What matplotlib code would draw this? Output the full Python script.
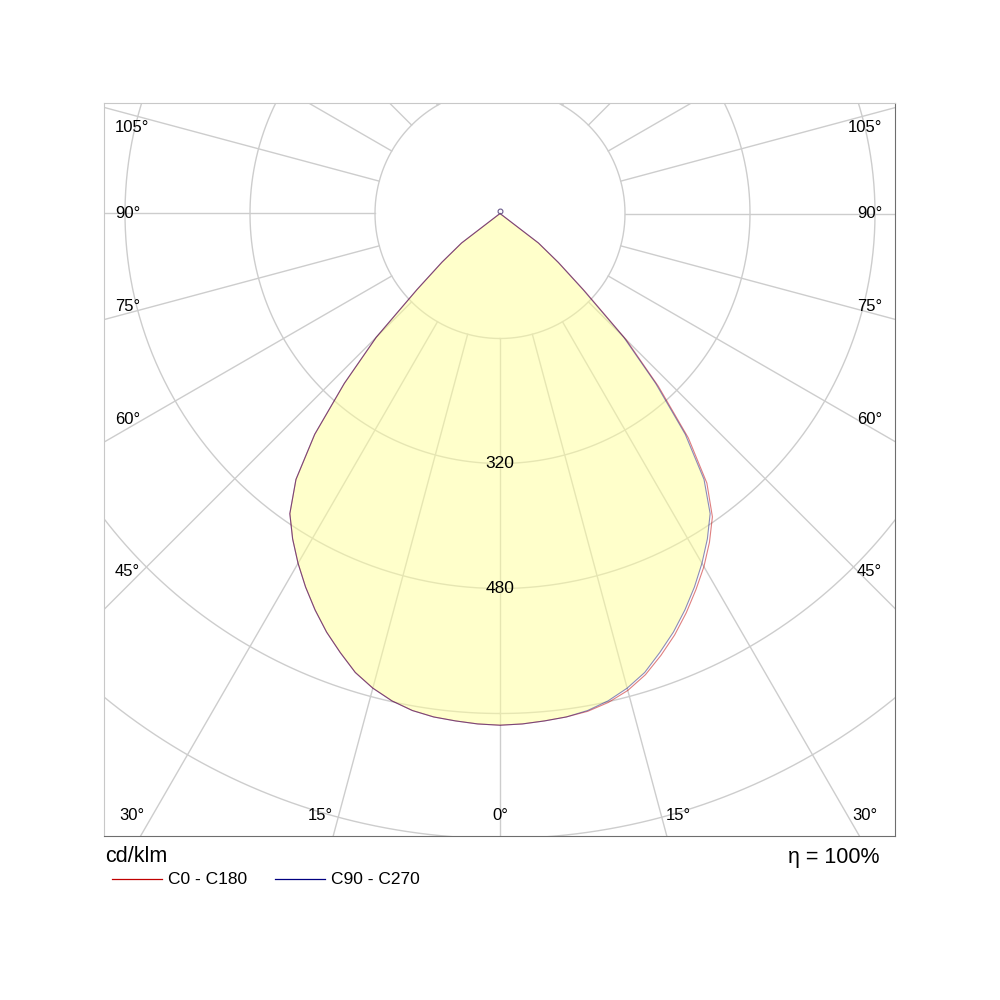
import numpy as np
import matplotlib.pyplot as plt

plt.rcParams['font.family'] = ['Liberation Sans', 'DejaVu Sans']

# gamma angles (deg) and luminous intensity (cd/klm)
gamma = [0, 2.5, 5, 7.5, 10, 12.5, 15, 17.5, 20, 22.5, 25, 27.5, 30, 32.5,
         35, 37.5, 40, 42.5, 45, 47.5, 50, 52.5, 55, 57.5, 60, 62.5, 65,
         67.5, 70, 75, 80, 85, 90]
i_c90 = [655, 654, 652, 650, 646, 639, 629, 616, 598, 580, 560, 539, 517, 494,
         469, 429, 369, 295, 224, 144, 97, 62, 0, 0, 0, 0, 0,
         0, 0, 0, 0, 0, 0]
i_c0 = [655, 654, 652, 650, 647, 641, 632, 619, 602, 584, 564, 543, 522, 499,
        474, 435, 375, 300, 228, 147, 98, 62, 0, 0, 0, 0, 0,
        0, 0, 0, 0, 0, 0]
i_c180 = i_c90
i_c270 = i_c90

ring_values = [160, 320, 480, 640, 800, 960]
ring_labels = [320, 480]
side_labels = ['105°', '90°', '75°', '60°', '45°']
bottom_labels = ['30°', '15°', '0°', '15°', '30°']
eta = '100%'

g = np.radians(gamma)


def half(vals, side):
    # side = +1 right half (C0 / C90), -1 left half (C180 / C270)
    v = np.array(vals, dtype=float)
    return side * v * np.sin(g), -v * np.cos(g)


fig = plt.figure(figsize=(10, 10), dpi=100)
ax = fig.add_axes([0.104, 0.164, 0.791, 0.733])
s = 125 / 160.0  # px per cd/klm
ax.set_xlim((104 - 500) / s, (895 - 500) / s)
ax.set_ylim((213.5 - 836) / s, (213.5 - 103) / s)
ax.set_xticks([])
ax.set_yticks([])
for side in ['top', 'left']:
    ax.spines[side].set_color('#c8c8c8')
for side in ['bottom', 'right']:
    ax.spines[side].set_color('#6e6e6e')

gridc = '#cdcdcd'
t = np.linspace(0, 2 * np.pi, 721)
for R in ring_values:
    ax.plot(R * np.sin(t), -R * np.cos(t), color=gridc, lw=1.0, zorder=1)
for a in np.radians(np.arange(0, 360, 15)):
    ax.plot([ring_values[0] * np.sin(a), 1200 * np.sin(a)],
            [-ring_values[0] * np.cos(a), -1200 * np.cos(a)],
            color=gridc, lw=1.0, zorder=1)

# fill from the C90-C270 curve
xr, yr = half(i_c90, 1)
xl, yl = half(i_c270, -1)
fx = np.concatenate([xl[::-1], xr])
fy = np.concatenate([yl[::-1], yr])
ax.fill(fx, fy, color='#ffff99', alpha=0.5, lw=0, zorder=2)

# curves
x0, y0 = half(i_c0, 1)
x1, y1 = half(i_c180, -1)
ax.plot(np.concatenate([x1[::-1], x0]), np.concatenate([y1[::-1], y0]),
        color='#c00000', lw=0.8, alpha=0.5, zorder=3)
x2, y2 = half(i_c270, -1)
ax.plot(np.concatenate([x2[::-1], xr]), np.concatenate([y2[::-1], yr]),
        color='#000080', lw=0.8, alpha=0.45, zorder=3)
ax.plot([0], [3], marker='o', ms=3.5, mfc='none', mec='#6a5a8a', mew=0.8, zorder=4)

for v in ring_labels:
    ax.text(0, -v, str(v), ha='center', va='center', fontsize=12.5, zorder=5)

# angle labels around the frame
side_y = [128, 213, 307, 419, 571]
for lab, py in zip(side_labels, side_y):
    fig.text(115 / 1000, 1 - py / 1000, lab, ha='left', va='center', fontsize=12)
    fig.text(882 / 1000, 1 - py / 1000, lab, ha='right', va='center', fontsize=12)
bottom_x = [132, 320, 500, 678, 865]
for lab, px in zip(bottom_labels, bottom_x):
    fig.text(px / 1000, 1 - 815 / 1000, lab, ha='center', va='center', fontsize=12)

# footer
fig.text(105 / 1000, 1 - 857 / 1000, 'cd/klm', ha='left', va='center', fontsize=15.5)
fig.text(880 / 1000, 1 - 857 / 1000, 'η = ' + eta, ha='right', va='center', fontsize=15.5)
fig.add_artist(plt.Line2D([112 / 1000, 162 / 1000], [0.121, 0.121], color='#c00000', lw=0.9))
fig.text(168 / 1000, 0.121, 'C0 - C180', ha='left', va='center', fontsize=12.5)
fig.add_artist(plt.Line2D([275 / 1000, 325 / 1000], [0.121, 0.121], color='#000080', lw=0.9))
fig.text(331 / 1000, 0.121, 'C90 - C270', ha='left', va='center', fontsize=12.5)

fig.savefig('out.png', dpi=100, facecolor='white')
